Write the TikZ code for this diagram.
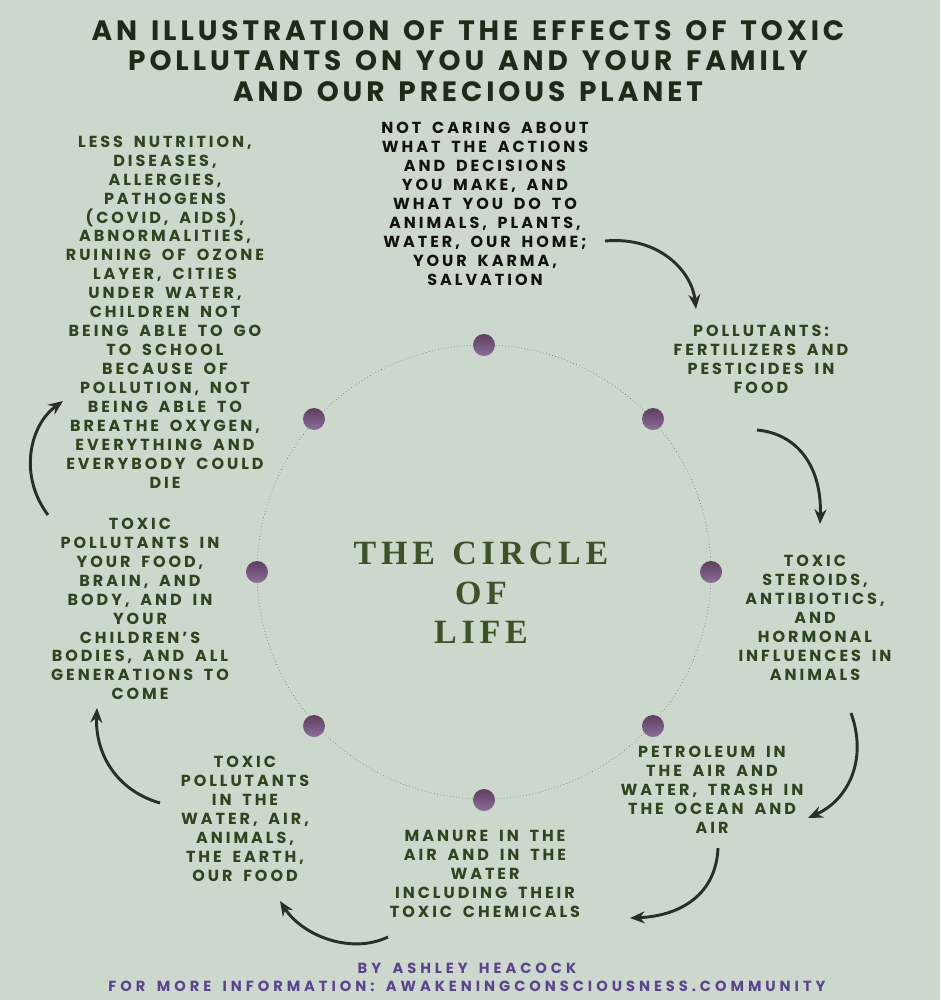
\documentclass[tikz,border=0pt]{standalone}
\usepackage{fontspec}
\usetikzlibrary{arrows.meta}
\newfontfamily\mont{Poppins}[LetterSpace=18.5,WordSpace=1.7]
\newfontfamily\footfont{Poppins}[LetterSpace=27,WordSpace=1.6]
\newfontfamily\titlefont{Poppins}[LetterSpace=14,WordSpace=1.4]
\newfontfamily\serifspaced{Liberation Serif}[LetterSpace=14,WordSpace=1.3]
\definecolor{bgc}{HTML}{CDD8CD}
\definecolor{titlec}{HTML}{1F2A18}
\definecolor{bodyc}{HTML}{2F4520}
\definecolor{blackc}{HTML}{121212}
\definecolor{centerc}{HTML}{3D5226}
\definecolor{footc}{HTML}{5A4490}
\definecolor{arrowc}{HTML}{2A2E2A}
\definecolor{dotdark}{HTML}{5E3F60}
\definecolor{dotlight}{HTML}{8C6E98}
\begin{document}
\begin{tikzpicture}[x=0.75pt,y=-0.75pt,
  body/.style={align=center,inner sep=0pt,text=bodyc,font=\mont\bfseries\fontsize{12}{14.2}\selectfont},
  blk/.style={body,text=blackc},
  dot/.style={circle,minimum size=16.5pt,inner sep=0pt,top color=dotdark,bottom color=dotlight,draw=none},
  arr/.style={draw=arrowc,line width=2.2pt,-{Stealth[length=11pt,width=9pt]}}]
\fill[bgc] (0,0) rectangle (940,1000);
\useasboundingbox (0,0) rectangle (940,1000);
% title
\node[align=center,inner sep=0pt,text=titlec,font=\titlefont\bfseries\fontsize{21}{23}\selectfont] (title) at (468,61)
 {AN ILLUSTRATION OF THE EFFECTS OF TOXIC\\POLLUTANTS ON YOU AND YOUR FAMILY\\AND OUR PRECIOUS PLANET};
% circle
\coordinate (c) at (484,572);
\draw[gray!70!black,line width=0.4pt,dotted] (c) circle[radius=227];
\node[dot] (d1) at (484,345) {};
\node[dot] (d2) at (653,419) {};
\node[dot] (d3) at (711,572) {};
\node[dot] (d4) at (653,726) {};
\node[dot] (d5) at (484,800) {};
\node[dot] (d6) at (314,726) {};
\node[dot] (d7) at (257,572) {};
\node[dot] (d8) at (314,419) {};
% center text
\node[align=center,inner sep=0pt,text=centerc,font=\serifspaced\bfseries\fontsize{25.5}{29.5}\selectfont] (ctext) at (481,593)
 {THE CIRCLE\\OF\\LIFE};
% text blocks
\node[blk] (t1) at (485,204) {NOT CARING ABOUT\\WHAT THE ACTIONS\\AND DECISIONS\\YOU MAKE, AND\\WHAT YOU DO TO\\ANIMALS, PLANTS,\\WATER, OUR HOME;\\YOUR KARMA,\\SALVATION};
\node[body] (t2) at (761,359) {POLLUTANTS:\\FERTILIZERS AND\\PESTICIDES IN\\FOOD};
\node[body] (t3) at (815,618) {TOXIC\\STEROIDS,\\ANTIBIOTICS,\\AND\\HORMONAL\\INFLUENCES IN\\ANIMALS};
\node[body] (t4) at (712,790) {PETROLEUM IN\\THE AIR AND\\WATER, TRASH IN\\THE OCEAN AND\\AIR};
\node[body] (t5) at (485,874) {MANURE IN THE\\AIR AND IN THE\\WATER\\INCLUDING THEIR\\TOXIC CHEMICALS};
\node[body] (t6) at (245,819) {TOXIC\\POLLUTANTS\\IN THE\\WATER, AIR,\\ANIMALS,\\THE EARTH,\\OUR FOOD};
\node[body] (t7) at (140,609) {TOXIC\\POLLUTANTS IN\\YOUR FOOD,\\BRAIN, AND\\BODY, AND IN\\YOUR\\CHILDREN’S\\BODIES, AND ALL\\GENERATIONS TO\\COME};
\node[body] (t8) at (165,312) {LESS NUTRITION,\\DISEASES,\\ALLERGIES,\\PATHOGENS\\(COVID, AIDS),\\ABNORMALITIES,\\RUINING OF OZONE\\LAYER, CITIES\\UNDER WATER,\\CHILDREN NOT\\BEING ABLE TO GO\\TO SCHOOL\\BECAUSE OF\\POLLUTION, NOT\\BEING ABLE TO\\BREATHE OXYGEN,\\EVERYTHING AND\\EVERYBODY COULD\\DIE};
% footer
\node[align=center,inner sep=0pt,text=footc,font=\footfont\bfseries\fontsize{11}{13.5}\selectfont] (foot) at (467,977)
 {BY ASHLEY HEACOCK\\FOR MORE INFORMATION: AWAKENINGCONSCIOUSNESS.COMMUNITY};
% arrows
\coordinate (a1s) at (605,241); \coordinate (a1e) at (696,309);
\coordinate (a2s) at (757,430); \coordinate (a2e) at (820,524);
\coordinate (a3s) at (851,713); \coordinate (a3e) at (808,818);
\coordinate (a4s) at (718,848); \coordinate (a4e) at (630,918);
\coordinate (a5s) at (388,937); \coordinate (a5e) at (280,901);
\coordinate (a6s) at (160,803); \coordinate (a6e) at (97,708);
\coordinate (a7s) at (48,515); \coordinate (a7e) at (63,401);
\draw[arr] (a1s) .. controls (660,236) and (692,272) .. (a1e);
\draw[arr] (a2s) .. controls (800,434) and (822,470) .. (a2e);
\draw[arr] (a3s) .. controls (868,760) and (848,800) .. (a3e);
\draw[arr] (a4s) .. controls (716,895) and (680,916) .. (a4e);
\draw[arr] (a5s) .. controls (350,955) and (302,935) .. (a5e);
\draw[arr] (a6s) .. controls (115,790) and (95,752) .. (a6e);
\draw[arr] (a7s) .. controls (18,475) and (30,425) .. (a7e);
\end{tikzpicture}
\end{document}
